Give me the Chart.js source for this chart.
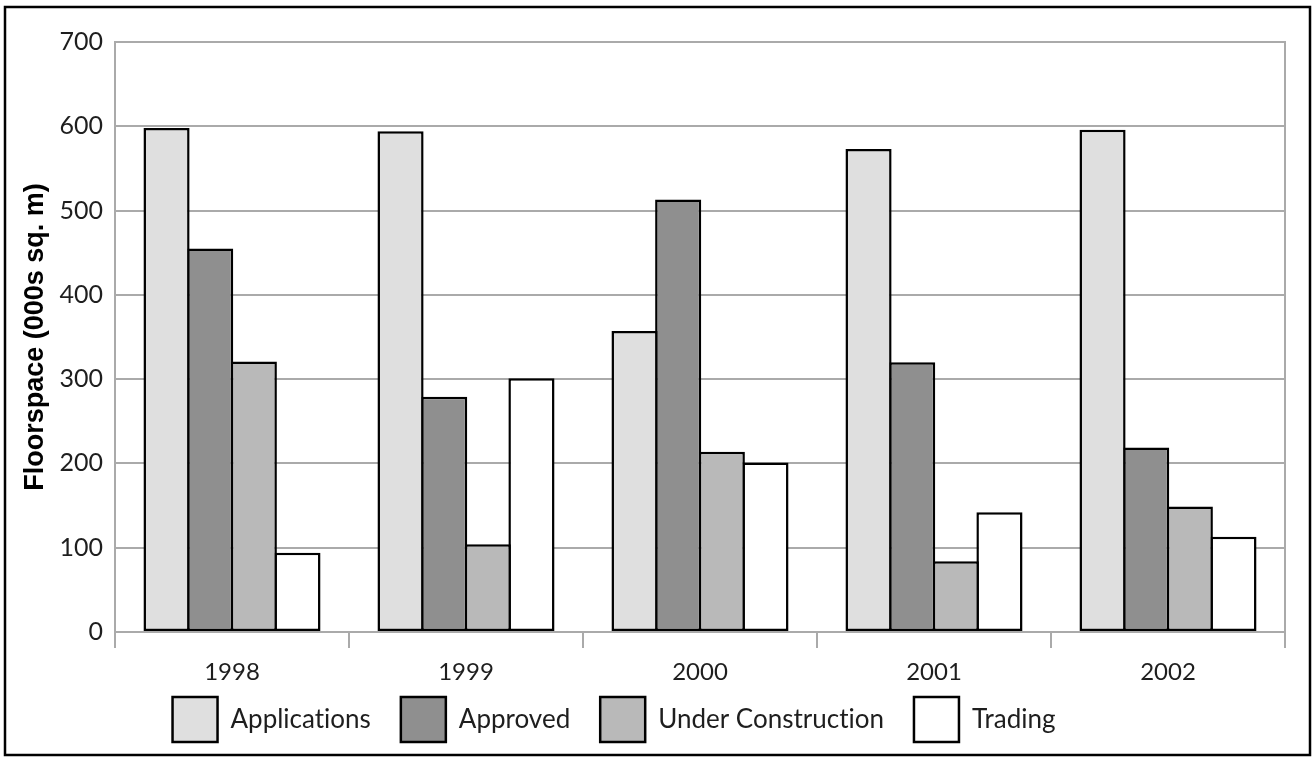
<!DOCTYPE html>
<html>
<head>
<meta charset="utf-8">
<script src="https://cdn.jsdelivr.net/npm/chart.js@4.4.1/dist/chart.umd.min.js"></script>
<style>
  html, body { margin: 0; padding: 0; background: #ffffff; }
  canvas { display: block; }
</style>
</head>
<body>
<canvas id="floorspace" width="1313" height="757"></canvas>
<script>
// Floorspace by development stage, thousands of square metres
const years = ['1998', '1999', '2000', '2001', '2002'];
const applications      = [598, 594, 357, 573, 596];
const approved          = [455, 279, 513, 320, 219];
const underConstruction = [321, 104, 214,  84, 149];
const trading           = [ 94, 301, 201, 142, 113];

const seriesNames = ['Applications', 'Approved', 'Under Construction', 'Trading'];
const axisTitle = 'Floorspace (000s sq. m)';
const yMin = 0;
const yMax = 700;
const yStep = 100;

const fills = ['#dfdfdf', '#8f8f8f', '#b9b9b9', '#ffffff'];
const GRID = '#aaaaaa';
const TEXT = '#1e1e1e';
const LABEL_FONT = "Lato, 'Open Sans', sans-serif";

const bar = (label, data, fill) => ({
  label,
  data,
  backgroundColor: fill,
  borderColor: '#000000',
  borderWidth: 2.5,
  borderSkipped: false,
  categoryPercentage: 0.746,
  barPercentage: 1.057
});

// Plain glyphs (no ligatures) for every label
const plainText = {
  id: 'plainText',
  beforeLayout(chart) { chart.ctx.textRendering = 'optimizeSpeed'; },
  beforeDraw(chart) { chart.ctx.textRendering = 'optimizeSpeed'; }
};

// Black frame around the whole figure
const framePlugin = {
  id: 'frame',
  afterDraw(chart) {
    const ctx = chart.ctx;
    ctx.save();
    ctx.strokeStyle = '#000000';
    ctx.lineWidth = 2.5;
    ctx.strokeRect(5, 7, 1305, 748);
    ctx.restore();
  }
};

// Place the legend row a little left of centre, tucked under the year labels
const legendOffset = {
  id: 'legendOffset',
  afterLayout(chart) {
    const lg = chart.legend;
    if (lg) {
      lg.left -= 31; lg.right -= 31;
      lg.top -= 22; lg.bottom -= 22;
    }
  }
};

new Chart(document.getElementById('floorspace'), {
  type: 'bar',
  data: {
    labels: years,
    datasets: [
      bar(seriesNames[0], applications, fills[0]),
      bar(seriesNames[1], approved, fills[1]),
      bar(seriesNames[2], underConstruction, fills[2]),
      bar(seriesNames[3], trading, fills[3])
    ]
  },
  options: {
    responsive: false,
    devicePixelRatio: 1,
    animation: false,
    layout: { padding: { left: 5, right: 28, top: 42, bottom: -17 } },
    plugins: {
      tooltip: { enabled: false },
      title: { display: false },
      legend: {
        position: 'bottom',
        labels: {
          boxWidth: 45,
          boxHeight: 45,
          padding: 30,
          color: TEXT,
          font: { family: LABEL_FONT, size: 26 }
        }
      }
    },
    scales: {
      x: {
        grid: {
          display: true,
          drawOnChartArea: false,
          drawTicks: true,
          tickLength: 16,
          color: GRID,
          lineWidth: 2
        },
        border: { display: true, color: GRID, width: 2 },
        ticks: {
          color: TEXT,
          padding: 10,
          font: { family: LABEL_FONT, size: 24 }
        },
        afterFit(s) { s.height = 57; }
      },
      y: {
        min: yMin,
        max: yMax,
        ticks: {
          stepSize: yStep,
          color: TEXT,
          padding: 12,
          font: { family: LABEL_FONT, size: 25 }
        },
        grid: { color: GRID, lineWidth: 2, drawTicks: false },
        border: { display: true, color: GRID, width: 2 },
        title: {
          display: true,
          text: axisTitle,
          color: '#000000',
          padding: { top: 14, bottom: 0 },
          font: { family: "'Liberation Sans', Arial, sans-serif", size: 27, weight: 'bold' }
        },
        afterFit(s) { s.width = 110; }
      },
      yRight: {
        position: 'right',
        min: yMin,
        max: yMax,
        grid: { display: false, drawTicks: false },
        ticks: { display: false },
        border: { display: true, color: GRID, width: 2 },
        afterFit(s) { s.width = 0; }
      }
    }
  },
  plugins: [plainText, framePlugin, legendOffset]
});
</script>
</body>
</html>
